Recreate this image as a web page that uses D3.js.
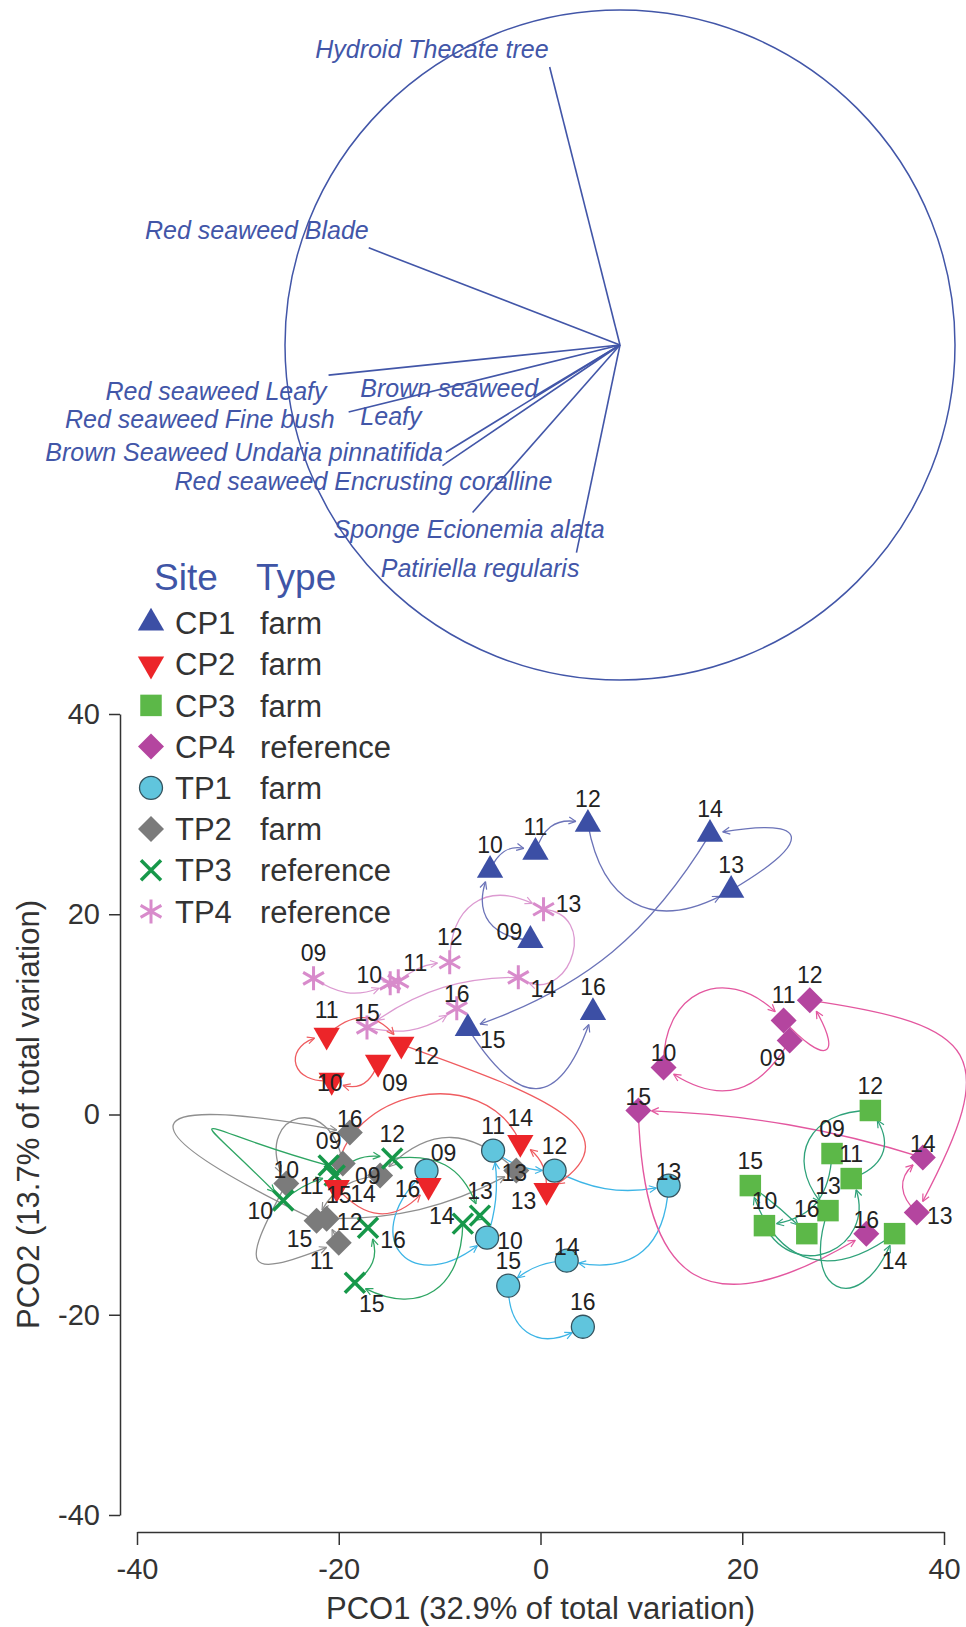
<!DOCTYPE html>
<html lang="en">
<head>
<meta charset="UTF-8"/>
<title>PCO trajectories by site</title>
<script src="https://cdnjs.cloudflare.com/ajax/libs/d3/7.8.5/d3.min.js"></script>
<style>
  body { margin: 0; background: #fff; }
  svg text { font-family: "Liberation Sans", Arial, Helvetica, sans-serif; }
</style>
</head>
<body>
<div id="chart"></div>
<script>
// ---- data ----
var years = ['09', '10', '11', '12', '13', '14', '15', '16'];
var sites = ['CP1', 'CP2', 'CP3', 'CP4', 'TP1', 'TP2', 'TP3', 'TP4'];
var siteTypes = ['farm', 'farm', 'farm', 'reference', 'farm', 'farm', 'reference', 'reference'];

var cp1X = [-1.0, -5.0, -0.5, 4.7, 18.9, 16.8, -7.2, 5.2];
var cp1Y = [17.4, 24.4, 26.2, 29.0, 22.4, 28.0, 8.6, 10.2];
var cp2X = [-16.1, -20.7, -21.2, -13.8, 0.6, -2.0, -20.2, -11.1];
var cp2Y = [5.2, 3.4, 7.9, 7.0, -7.6, -2.8, -7.3, -7.1];
var cp3X = [28.9, 22.2, 30.8, 32.7, 28.5, 35.1, 20.8, 26.4];
var cp3Y = [-3.9, -11.1, -6.4, 0.4, -9.6, -11.9, -7.1, -11.9];
var cp4X = [24.7, 12.2, 24.1, 26.7, 37.3, 37.9, 9.7, 32.3];
var cp4Y = [7.4, 4.7, 9.4, 11.4, -9.8, -4.3, 0.4, -11.9];
var tp1X = [-11.3, -5.3, -4.7, 1.4, 12.7, 2.6, -3.2, 4.2];
var tp1Y = [-5.6, -12.3, -3.6, -5.6, -7.1, -14.6, -17.1, -21.2];
var tp2X = [-19.6, -25.2, -20.0, -21.2, -2.4, -15.9, -22.2, -18.9];
var tp2Y = [-4.9, -6.9, -12.8, -10.4, -5.6, -6.1, -10.6, -1.8];
var tp3X = [-21.0, -25.5, -20.4, -14.7, -6.0, -7.7, -18.4, -17.1];
var tp3Y = [-5.1, -8.6, -6.1, -4.4, -10.1, -10.9, -16.8, -11.3];
var tp4X = [-22.5, -14.9, -14.1, -9.0, 0.3, -2.2, -17.2, -8.3];
var tp4Y = [13.6, 13.1, 13.3, 15.2, 20.5, 13.7, 8.7, 10.6];

// vector overlay (correlations with PCO1 / PCO2)
var vecNames = ['Hydroid Thecate tree', 'Red seaweed Blade', 'Red seaweed Leafy', 'Brown seaweed|Leafy',
  'Red seaweed Fine bush', 'Brown Seaweed Undaria pinnatifida', 'Red seaweed Encrusting coralline',
  'Sponge Ecionemia alata', 'Patiriella regularis'];
var vecX = [-0.21, -0.75, -0.87, -0.25, -0.81, -0.52, -0.53, -0.44, -0.13];
var vecY = [0.83, 0.29, -0.09, -0.15, -0.20, -0.32, -0.36, -0.50, -0.62];

var axisTicks = [-40, -20, 0, 20, 40];
var xTitle = 'PCO1 (32.9% of total variation)';
var yTitle = 'PCO2 (13.7% of total variation)';

// ---- layout: trajectory bends and label spots ----
// bend: angle (deg, + = bulge to the left of travel), or [angle, handle], or [depAngle, arrAngle, handle]
var bendCP1 = [55, 45, 45, -55, [-80, 1.7], 20, [-65, 0.8]];
var bendCP2 = [50, [90, 1.0], 50, [25, 105, 0.6], -30, [-80, 0.5], -50];
var bendCP3 = [40, -90, -55, -67, [-90, 1.3], 55, 5];
var bendCP4 = [48, 70, [-85, 2.0], [55, 0.75], 52, -8, [-60, 0.7]];
var bendTP1 = [[-90, 1.1], -15, -20, -20, 50, -20, -61];
var bendTP2 = [[-100, 1.3], [-70, 1.3], 0, -15, -45, -30, [85, 80, 2.4]];
var bendTP3 = [[-53, -97, 2.6], 15, 30, 40, 20, 60, -40];
var bendTP4 = [-30, 0, 20, 60, 105, -18, -25];

var labCP1 = ['wn', 'n', 'n', 'n', 'n', 'n', 'es', 'n'];
var labCP2 = ['se', 'c', 'n', 'es', 'ws', 'n', 'cs', 'w'];
var labCP3 = ['n', 'n', 'n', 'n', 'n', 's', 'n', 'n'];
var labCP4 = ['sw', 'nc', 'n', 'n', 'e', 'nc', 'nc', 'nc'];
var labTP1 = ['ne', 'e', 'n', 'n', 'nc', 'nc', 'n', 'n'];
var labTP2 = ['es', 'nc', 'sw', 'e', 'c', 'sw', 'sw', 'nc'];
var labTP3 = ['n', 'ws', 'ws', 'n', 'n', 'wn', 'se', 'es'];
var labTP4 = ['n', 'wn', 'ne', 'n', 'en', 'es', 'nc', 'nc'];

var labOff = {
  n: [0, -25], nc: [0, -14], s: [0, 27], e: [23, 3], w: [-21, 3],
  ne: [17, -18], nw: [-17, -18], se: [17, 21], sw: [-17, 18],
  es: [25, 12], ws: [-23, 10], en: [25, -5], wn: [-21, -8],
  c: [-2, 2], cs: [2, 7]
};

var vecLabDx = [-1, 0, -2, 2, -14, -3, 110, 132, 3];
var vecLabDy = [-18, -18, 16, -7, 7, 0, 16, 17, 16];

// ---- symbols ----
var diamondSym = { draw: function (ctx, size) {
  var r = Math.sqrt(size) / 2;
  ctx.moveTo(0, -r); ctx.lineTo(r, 0); ctx.lineTo(0, r); ctx.lineTo(-r, 0); ctx.closePath();
} };
var timesSym = { draw: function (ctx, size) {
  var r = Math.sqrt(size) / 2;
  ctx.moveTo(-r, -r); ctx.lineTo(r, r); ctx.moveTo(-r, r); ctx.lineTo(r, -r);
} };
var starSym = { draw: function (ctx, size) {
  var r = Math.sqrt(size) / 2;
  for (var k = 0; k < 3; k++) {
    var a = Math.PI / 2 + k * Math.PI / 3;
    ctx.moveTo(r * Math.cos(a), r * Math.sin(a));
    ctx.lineTo(-r * Math.cos(a), -r * Math.sin(a));
  }
} };

var series = [
  { xs: tp2X, ys: tp2Y, bends: bendTP2, lab: labTP2, idx: 5 },
  { xs: tp1X, ys: tp1Y, bends: bendTP1, lab: labTP1, idx: 4 },
  { xs: tp3X, ys: tp3Y, bends: bendTP3, lab: labTP3, idx: 6 },
  { xs: tp4X, ys: tp4Y, bends: bendTP4, lab: labTP4, idx: 7 },
  { xs: cp4X, ys: cp4Y, bends: bendCP4, lab: labCP4, idx: 3 },
  { xs: cp3X, ys: cp3Y, bends: bendCP3, lab: labCP3, idx: 2 },
  { xs: cp1X, ys: cp1Y, bends: bendCP1, lab: labCP1, idx: 0 },
  { xs: cp2X, ys: cp2Y, bends: bendCP2, lab: labCP2, idx: 1 }
];

// style per site (same order as sites)
var symStyle = [
  { type: d3.symbolTriangle, size: 300, rot: 0, fill: '#3c4fa5', stroke: 'none', sw: 0, line: '#6b73b8' },
  { type: d3.symbolTriangle, size: 300, rot: 180, fill: '#ec2529', stroke: 'none', sw: 0, line: '#ef5c60' },
  { type: d3.symbolSquare, size: 462, rot: 0, fill: '#5cb848', stroke: 'none', sw: 0, line: '#2fa27a' },
  { type: diamondSym, size: 676, rot: 0, fill: '#b4459f', stroke: 'none', sw: 0, line: '#e3579f' },
  { type: d3.symbolCircle, size: 415, rot: 0, fill: '#60c5dd', stroke: '#34535e', sw: 1.3, line: '#3db5e6' },
  { type: diamondSym, size: 676, rot: 0, fill: '#7b7b7b', stroke: 'none', sw: 0, line: '#8f8f8f' },
  { type: timesSym, size: 400, rot: 0, fill: 'none', stroke: '#17984a', sw: 3.5, line: '#2ea563' },
  { type: starSym, size: 576, rot: 0, fill: 'none', stroke: '#d88bcb', sw: 3, line: '#dc9ad1' }
];

var W = 966, H = 1627;
var svg = d3.select('#chart').append('svg').attr('width', W).attr('height', H);

var x = d3.scaleLinear().domain([-40, 40]).range([137, 944]);
var y = d3.scaleLinear().domain([-40, 40]).range([1515, 714]);
var vx = d3.scaleLinear().domain([-1, 1]).range([285, 955]);
var vy = d3.scaleLinear().domain([-1, 1]).range([680, 10]);

var blue = '#4256a8';

// ---- vector overlay ----
var vg = svg.append('g');
vg.append('circle')
  .attr('cx', vx(0)).attr('cy', vy(0)).attr('r', vx(1) - vx(0))
  .attr('fill', 'none').attr('stroke', blue).attr('stroke-width', 1.5);

vg.selectAll('line.vec').data(vecNames).enter().append('line')
  .attr('class', 'vec')
  .attr('x1', vx(0)).attr('y1', vy(0))
  .attr('x2', function (d, i) { return vx(vecX[i]); })
  .attr('y2', function (d, i) { return vy(vecY[i]); })
  .attr('stroke', blue).attr('stroke-width', 1.6);

vecNames.forEach(function (name, i) {
  var parts = name.split('|');
  var t = vg.append('text')
    .attr('x', vx(vecX[i]) + vecLabDx[i])
    .attr('y', vy(vecY[i]) + vecLabDy[i])
    .attr('dy', '0.35em')
    .attr('text-anchor', 'end')
    .attr('font-style', 'italic')
    .attr('font-size', 25)
    .attr('fill', blue)
    .text(parts[0]);
  if (parts.length > 1) {
    var bb = t.node().getBBox();
    vg.append('text')
      .attr('x', bb.x).attr('y', vy(vecY[i]) + vecLabDy[i] + 28)
      .attr('dy', '0.35em')
      .attr('font-style', 'italic').attr('font-size', 25).attr('fill', blue)
      .text(parts[1]);
  }
});

// ---- axes ----
var plain = function (d) { return String(d); };
var yAxis = d3.axisLeft(y).tickValues(axisTicks).tickFormat(plain).tickSize(11).tickSizeOuter(0).tickPadding(9);
var gy = svg.append('g').attr('transform', 'translate(120,0)').call(yAxis);
var xAxis = d3.axisBottom(x).tickValues(axisTicks).tickFormat(plain).tickSize(13).tickSizeOuter(0).tickPadding(13);
var gx = svg.append('g').attr('transform', 'translate(0,1532)').call(xAxis);
[gy, gx].forEach(function (g) {
  g.attr('font-family', null).attr('font-size', null);
  g.selectAll('path, line').attr('stroke', '#333').attr('stroke-width', 1.5);
  g.selectAll('text').attr('font-size', 29).attr('fill', '#333');
});

svg.append('text')
  .attr('x', (x(-40) + x(40)) / 2).attr('y', 1619)
  .attr('text-anchor', 'middle').attr('font-size', 31).attr('fill', '#333')
  .text(xTitle);
svg.append('text')
  .attr('transform', 'translate(39,' + y(0) + ') rotate(-90)')
  .attr('text-anchor', 'middle').attr('font-size', 31).attr('fill', '#333')
  .text(yTitle);

// ---- trajectories ----
function bezierFor(p0, p1, bend) {
  var t0 = bend, t1 = bend, h = null;
  if (Array.isArray(bend)) {
    if (bend.length === 3) { t0 = bend[0]; t1 = bend[1]; h = bend[2]; }
    else { t0 = t1 = bend[0]; h = bend[1]; }
  }
  var dx = p1[0] - p0[0], dy = p1[1] - p0[1];
  var L = Math.hypot(dx, dy);
  var ux = dx / L, uy = dy / L;
  var nx = uy, ny = -ux; // left of travel on screen
  var a0 = t0 * Math.PI / 180, a1 = t1 * Math.PI / 180;
  if (h === null) h = 0.33 + 0.4 * Math.pow(Math.abs(t0) / 90, 1.3);
  var c1 = [p0[0] + h * L * (Math.cos(a0) * ux + Math.sin(a0) * nx),
            p0[1] + h * L * (Math.cos(a0) * uy + Math.sin(a0) * ny)];
  var c2 = [p1[0] - h * L * (Math.cos(a1) * ux - Math.sin(a1) * nx),
            p1[1] - h * L * (Math.cos(a1) * uy - Math.sin(a1) * ny)];
  return [p0, c1, c2, p1];
}
function bpt(b, t) {
  var m = 1 - t;
  return [m * m * m * b[0][0] + 3 * m * m * t * b[1][0] + 3 * m * t * t * b[2][0] + t * t * t * b[3][0],
          m * m * m * b[0][1] + 3 * m * m * t * b[1][1] + 3 * m * t * t * b[2][1] + t * t * t * b[3][1]];
}
function lerp(a, b, t) { return [a[0] + (b[0] - a[0]) * t, a[1] + (b[1] - a[1]) * t]; }
function trimEnd(b, r) {
  var end = b[3], t = 1;
  while (t > 0.02) {
    var p = bpt(b, t);
    if (Math.hypot(p[0] - end[0], p[1] - end[1]) >= r) break;
    t -= 0.004;
  }
  var q0 = lerp(b[0], b[1], t), q1 = lerp(b[1], b[2], t), q2 = lerp(b[2], b[3], t);
  var r0 = lerp(q0, q1, t), r1 = lerp(q1, q2, t);
  var s = lerp(r0, r1, t);
  return [b[0], q0, r0, s];
}

var lineG = svg.append('g').attr('fill', 'none');
series.forEach(function (s) {
  var st = symStyle[s.idx];
  for (var i = 0; i < s.xs.length - 1; i++) {
    var p0 = [x(s.xs[i]), y(s.ys[i])], p1 = [x(s.xs[i + 1]), y(s.ys[i + 1])];
    var b = trimEnd(bezierFor(p0, p1, s.bends[i]), 12);
    var path = d3.path();
    path.moveTo(b[0][0], b[0][1]);
    path.bezierCurveTo(b[1][0], b[1][1], b[2][0], b[2][1], b[3][0], b[3][1]);
    lineG.append('path').attr('d', path.toString())
      .attr('stroke', st.line).attr('stroke-width', 1.3);
    // open arrowhead
    var tx = b[3][0] - b[2][0], ty = b[3][1] - b[2][1];
    var ang = Math.atan2(ty, tx);
    var ah = d3.path();
    [-0.45, 0.45].forEach(function (da) {
      ah.moveTo(b[3][0], b[3][1]);
      ah.lineTo(b[3][0] - 8 * Math.cos(ang + da), b[3][1] - 8 * Math.sin(ang + da));
    });
    lineG.append('path').attr('d', ah.toString())
      .attr('stroke', st.line).attr('stroke-width', 1.2);
  }
});

// ---- markers ----
var markG = svg.append('g');
function drawMarker(g, st, cx, cy) {
  g.append('path')
    .attr('d', d3.symbol().type(st.type).size(st.size)())
    .attr('transform', 'translate(' + cx + ',' + cy + ') rotate(' + st.rot + ')')
    .attr('fill', st.fill).attr('stroke', st.stroke).attr('stroke-width', st.sw);
}
series.forEach(function (s) {
  var st = symStyle[s.idx];
  s.xs.forEach(function (v, i) { drawMarker(markG, st, x(v), y(s.ys[i])); });
});

// ---- point labels ----
var labG = svg.append('g').attr('font-size', 23).attr('fill', '#222').attr('text-anchor', 'middle');
series.forEach(function (s) {
  s.xs.forEach(function (v, i) {
    var off = labOff[s.lab[i]];
    labG.append('text')
      .attr('x', x(v) + off[0]).attr('y', y(s.ys[i]) + off[1])
      .attr('dy', '0.35em')
      .text(years[i]);
  });
});

// ---- legend ----
var lg = svg.append('g');
lg.append('text').attr('x', 154).attr('y', 590).attr('font-size', 37).attr('fill', '#3f55a6').text('Site');
lg.append('text').attr('x', 256).attr('y', 590).attr('font-size', 37).attr('fill', '#3f55a6').text('Type');
sites.forEach(function (site, i) {
  var cy = 623 + i * 41.2;
  drawMarker(lg, symStyle[i], 151, cy);
  lg.append('text').attr('x', 175).attr('y', cy).attr('dy', '0.36em')
    .attr('font-size', 31).attr('fill', '#333').text(site);
  lg.append('text').attr('x', 260).attr('y', cy).attr('dy', '0.36em')
    .attr('font-size', 31).attr('fill', '#333').text(siteTypes[i]);
});
</script>
</body>
</html>
